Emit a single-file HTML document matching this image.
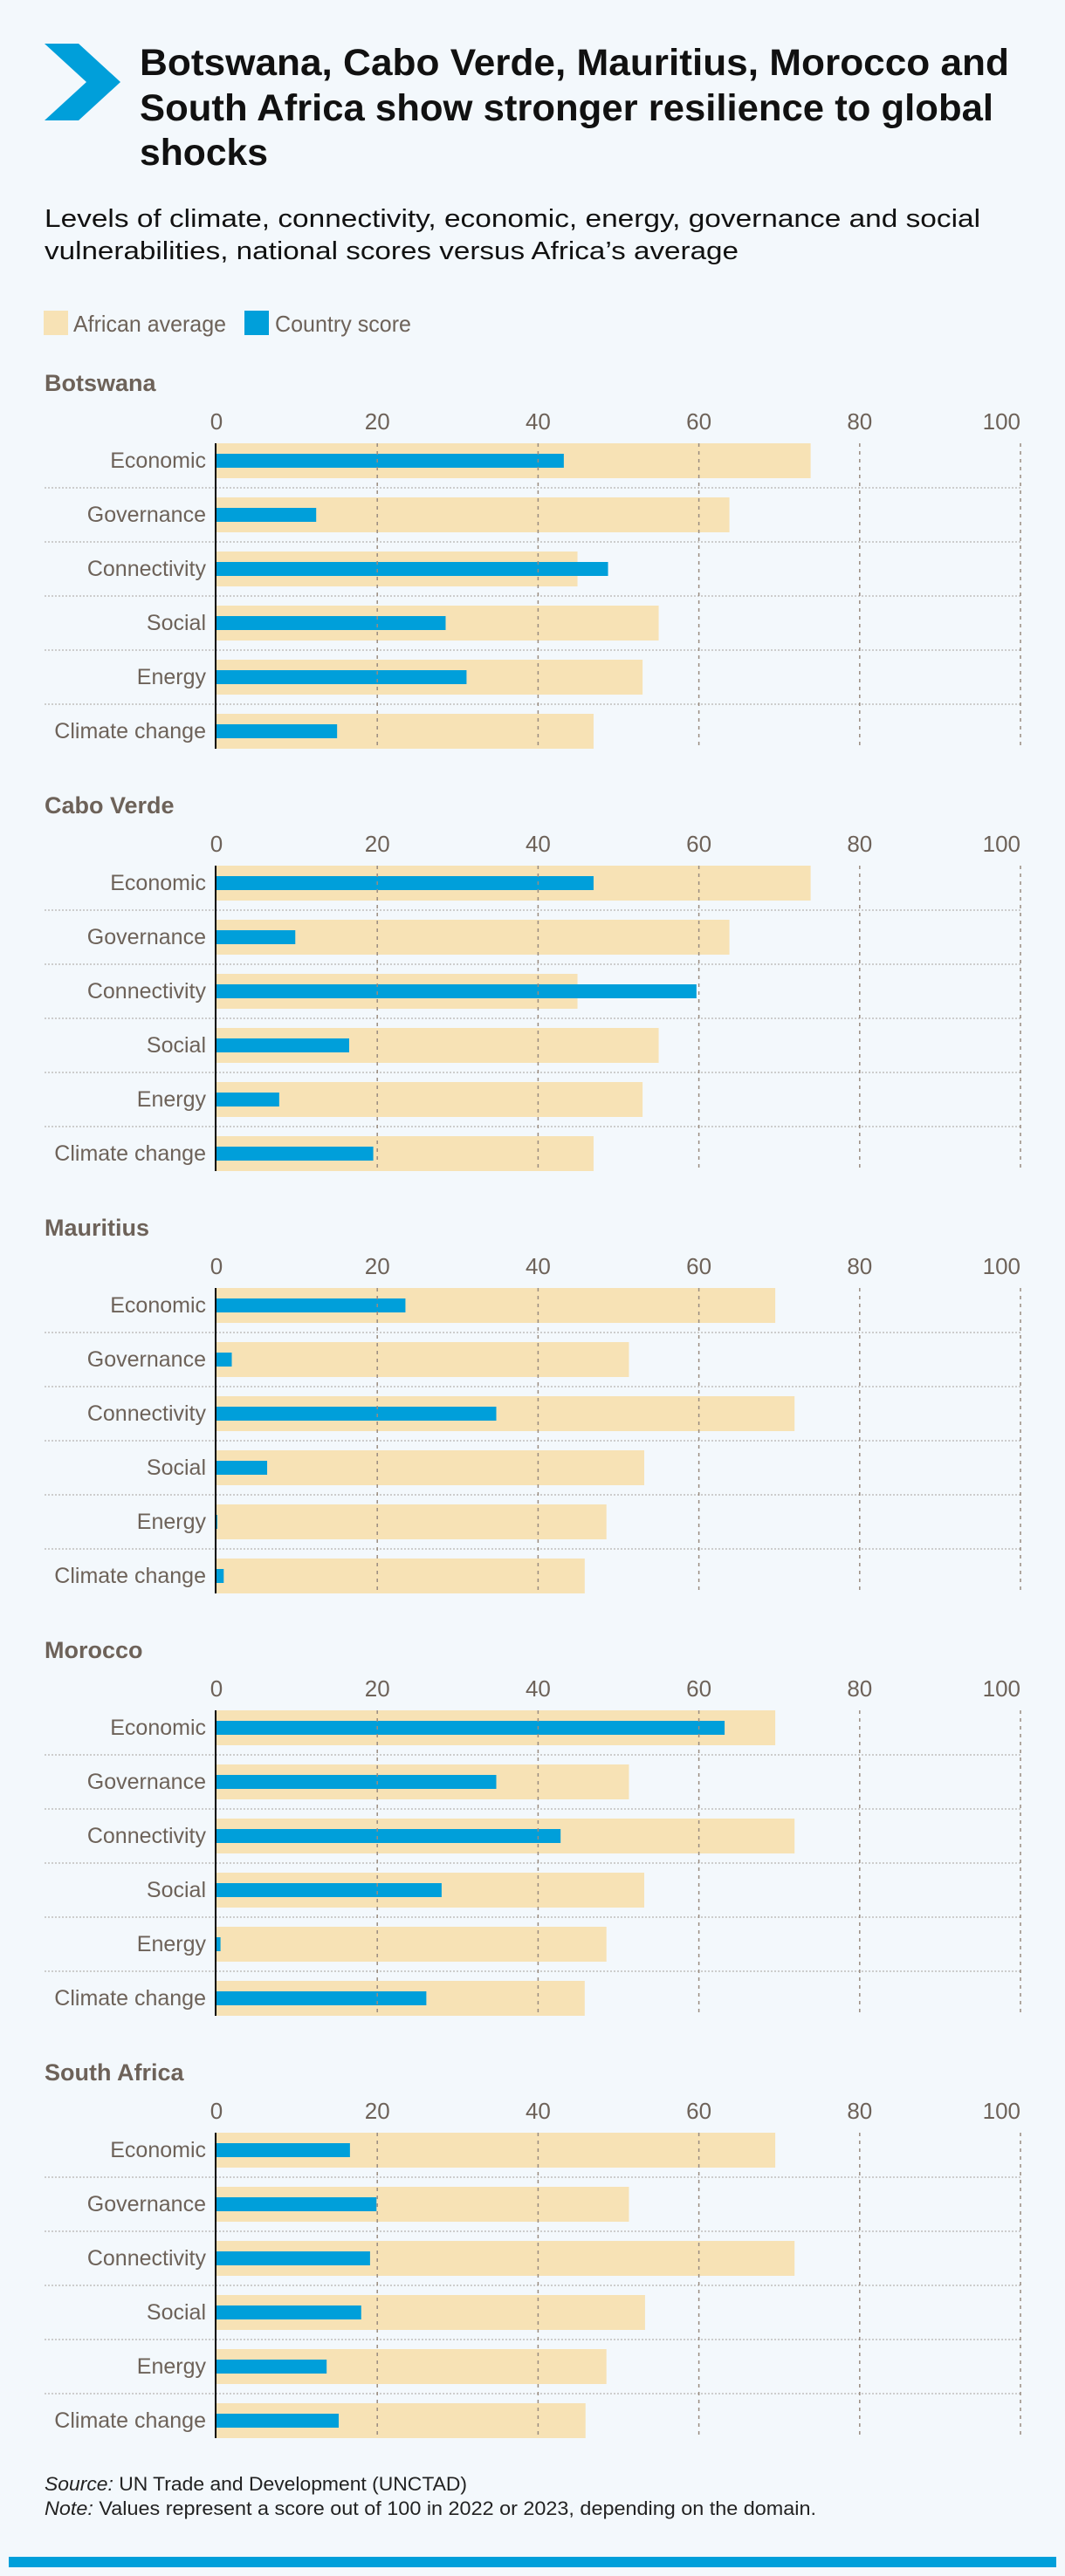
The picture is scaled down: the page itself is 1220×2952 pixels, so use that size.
<!DOCTYPE html>
<html><head><meta charset="utf-8"><style>
html,body{margin:0;padding:0;background:#f3f8fc;}
svg{display:block;font-family:"Liberation Sans",sans-serif;}
</style></head><body>
<svg id="chart" width="1220" height="2952" viewBox="0 0 1220 2952" xmlns="http://www.w3.org/2000/svg">
<rect x="0" y="0" width="1220" height="2952" fill="#f3f8fc"/>
<polygon points="51,50 90,50 138,94 90,138 51,138 99,94" fill="#009fda"/>
<g font-weight="bold" font-size="43" fill="#111">
<text x="160" y="86" textLength="996" lengthAdjust="spacingAndGlyphs">Botswana, Cabo Verde, Mauritius, Morocco and</text>
<text x="160" y="138" textLength="978" lengthAdjust="spacingAndGlyphs">South Africa show stronger resilience to global</text>
<text x="160" y="189" textLength="147" lengthAdjust="spacingAndGlyphs">shocks</text>
</g>
<g font-size="29" fill="#111">
<text x="51" y="260" textLength="1072" lengthAdjust="spacingAndGlyphs">Levels of climate, connectivity, economic, energy, governance and social</text>
<text x="51" y="297" textLength="795" lengthAdjust="spacingAndGlyphs">vulnerabilities, national scores versus Africa’s average</text>
</g>
<g>
<rect x="50" y="356" width="28" height="28" fill="#f7e2b5"/>
<text x="84" y="380" font-size="26" fill="#6d6259" textLength="175" lengthAdjust="spacingAndGlyphs">African average</text>
<rect x="280" y="356" width="28" height="28" fill="#009fda"/>
<text x="315" y="380" font-size="26" fill="#6d6259" textLength="156" lengthAdjust="spacingAndGlyphs">Country score</text>
</g>
<g id="panels"></g>
<g font-size="22" fill="#222">
<text x="51" y="2854" textLength="484" lengthAdjust="spacingAndGlyphs"><tspan font-style="italic">Source:</tspan> UN Trade and Development (UNCTAD)</text>
<text x="51" y="2882" textLength="884" lengthAdjust="spacingAndGlyphs"><tspan font-style="italic">Note:</tspan> Values represent a score out of 100 in 2022 or 2023, depending on the domain.</text>
</g>
<rect x="10" y="2930" width="1200" height="12" fill="#009fda"/>
</svg>
<script>
const countries = ["Botswana", "Cabo Verde", "Mauritius", "Morocco", "South Africa"];
const categories = ["Economic", "Governance", "Connectivity", "Social", "Energy", "Climate change"];
const ticks = [0, 20, 40, 60, 80, 100];
const avgBotswana = [73.9, 63.8, 44.9, 55.0, 53.0, 46.9];
const avgCaboVerde = [73.9, 63.8, 44.9, 55.0, 53.0, 46.9];
const avgMauritius = [69.5, 51.3, 71.9, 53.2, 48.5, 45.8];
const avgMorocco = [69.5, 51.3, 71.9, 53.2, 48.5, 45.8];
const avgSouthAfrica = [69.5, 51.3, 71.9, 53.3, 48.5, 45.9];
const scoreBotswana = [43.2, 12.4, 48.7, 28.5, 31.1, 15.0];
const scoreCaboVerde = [46.9, 9.8, 59.7, 16.5, 7.8, 19.5];
const scoreMauritius = [23.5, 1.9, 34.8, 6.3, 0.1, 0.9];
const scoreMorocco = [63.2, 34.8, 42.8, 28.0, 0.5, 26.1];
const scoreSouthAfrica = [16.6, 19.9, 19.1, 18.0, 13.7, 15.2];
const averages = [avgBotswana, avgCaboVerde, avgMauritius, avgMorocco, avgSouthAfrica];
const scores = [scoreBotswana, scoreCaboVerde, scoreMauritius, scoreMorocco, scoreSouthAfrica];

const NS = "http://www.w3.org/2000/svg";
const X0 = 248, X1 = 1169;
function xScale(v){ return X0 + (X1 - X0) * v / 100; }
function mk(tag, attrs, parent){
  const e = document.createElementNS(NS, tag);
  for (const k in attrs) e.setAttribute(k, attrs[k]);
  parent.appendChild(e); return e;
}
const root = document.getElementById('panels');
countries.forEach((c, ci) => {
  const top = 508 + ci * 484;
  const g = mk('g', {}, root);
  
  
  const t = mk('text', {x: 51, y: top - 60, 'font-size': 27, 'font-weight': 'bold', fill: '#6d6259'}, g);
  t.textContent = c;
  
  
  const plotBottom = top + 5 * 62 + 40;
  for (let i = 0; i < 5; i++) {
    const y = top + i * 62 + 51;
    const s = mk('line', {x1: 51, x2: 1169, y1: y, y2: y, stroke: '#cdcdcd', 'stroke-width': 2, 'stroke-dasharray': '2 2'}, g);
    
    
  }
  categories.forEach((cat, i) => {
    const y = top + i * 62;
    const a = mk('rect', {x: X0, y: y, width: xScale(averages[ci][i]) - X0, height: 40, fill: '#f7e2b5'}, g);
    
    
    const b = mk('rect', {x: X0, y: y + 12, width: Math.max(xScale(scores[ci][i]) - X0, 0.6), height: 16, fill: '#009fda'}, g);
    
    
    const l = mk('text', {x: 236, y: y + 28, 'font-size': 25, fill: '#6d6259', 'text-anchor': 'end'}, g);
    l.textContent = cat;
    
    
  });
  ticks.forEach(v => {
    const x = xScale(v);
    if (v > 0) {
      const gl = mk('line', {x1: x, x2: x, y1: top, y2: plotBottom, stroke: '#9a8c80', 'stroke-width': 1.5, 'stroke-dasharray': '4 5'}, g);
      
      
    }
    const tl = mk('text', {x: v === 100 ? X1 : x, y: top - 16, 'font-size': 26, fill: '#6d6259', 'text-anchor': v === 100 ? 'end' : 'middle'}, g);
    tl.textContent = v;
    
    
  });
  const ax = mk('line', {x1: 247, x2: 247, y1: top, y2: plotBottom, stroke: '#000', 'stroke-width': 2}, g);
  
  
});
</script>
</body></html>
